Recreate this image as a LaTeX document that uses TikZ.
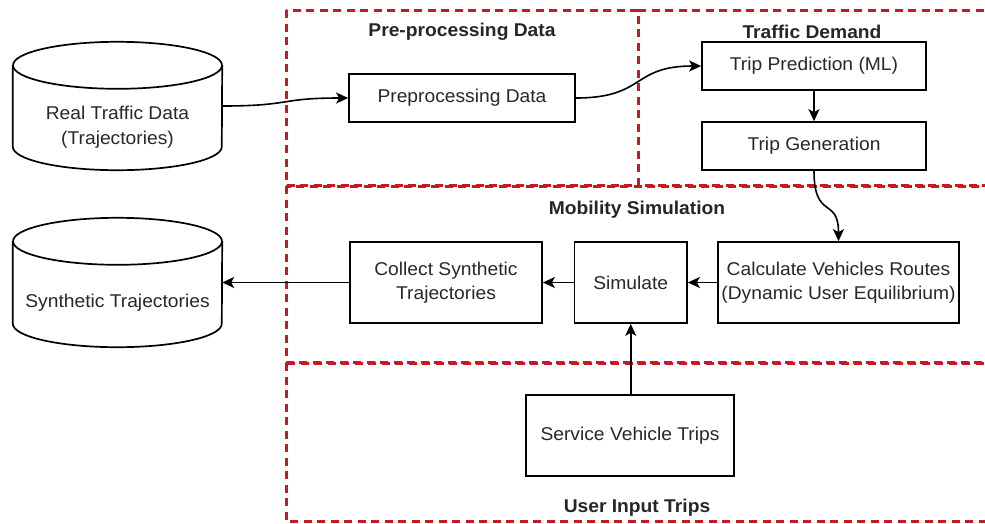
\documentclass[tikz,border=0pt]{standalone}
\usepackage{fontspec}
\setmainfont{Liberation Sans}[FakeStretch=1.04]
\usetikzlibrary{arrows.meta,calc}

\definecolor{zonered}{RGB}{200,25,35}
\definecolor{inktext}{RGB}{40,40,40}

\tikzset{
  zone/.style={draw=zonered, line width=3pt, dash pattern=on 8pt off 5.5pt},
  ztitle/.style={font=\fontsize{18.5}{22}\selectfont\bfseries, text=black!85, inner sep=0pt},
  procbox/.style={draw=black, line width=1.7pt, fill=white, align=center, inner sep=0pt,
    font=\fontsize{18.5}{24}\selectfont, text=inktext},
  dbbody/.style={inner sep=0pt, minimum width=209pt},
  dblabel/.style={align=center, inner sep=0pt, font=\fontsize{18.5}{25}\selectfont, text=inktext},
  dbline/.style={draw=black, line width=1.7pt},
  flow/.style={draw=black, line width=1.6pt, -{Stealth[length=12pt,width=11pt,inset=3pt]}},
}

% cylinder outline around a body node: top ellipse and curved bottom
\newcommand\drawdb[1]{%
  \draw[dbline, fill=white] ($(#1.north west)+(0,23.5)$) -- ($(#1.south west)+(0,-23.5)$)
    arc[start angle=180, end angle=360, x radius=104.5pt, y radius=23.5pt]
    -- ($(#1.north east)+(0,23.5)$);
  \draw[dbline] ($(#1.north)+(0,23.5)$) ellipse[x radius=104.5pt, y radius=23.5pt];
}

\begin{document}
\begin{tikzpicture}[x=1pt, y=-1pt]
  \clip (0,0) rectangle (985,523);
  \fill[white] (0,0) rectangle (985,523);

  % dashed zones (the demand zone shares its left edge with the pre-processing zone)
  \draw[zone] (286,10) rectangle (638,185);
  \draw[zone] (638,10) -- (1010,10) -- (1010,185) -- (638,185);
  \draw[zone] (286,186) rectangle (1010,362);
  \draw[zone] (286,363) rectangle (1010,521);

  % zone titles
  \node[ztitle] (tpre) at (462,32) {Pre-processing Data};
  \node[ztitle] (tdem) at (812,32) {Traffic Demand};
  \node[ztitle] (tmob) at (637,210) {Mobility Simulation};
  \node[ztitle] (tusr) at (637,508) {User Input Trips};

  % data stores
  \node[dbbody, minimum height=128pt] (rt) at (117.5,106) {};
  \drawdb{rt}
  \node[dblabel] (rtlabel) at (117.5,127.5) {Real Traffic Data\\(Trajectories)};

  \node[dbbody, minimum height=129pt] (syn) at (117.5,282.5) {};
  \drawdb{syn}
  \node[dblabel] (synlabel) at (117.5,303) {Synthetic Trajectories};

  % process boxes
  \node[procbox, minimum width=226pt, minimum height=48pt] (pre) at (462,98) {Preprocessing Data};
  \node[procbox, minimum width=224pt, minimum height=48pt] (tp) at (814,66) {Trip Prediction (ML)};
  \node[procbox, minimum width=224pt, minimum height=48pt] (tg) at (814,146) {Trip Generation};
  \node[procbox, minimum width=241pt, minimum height=81pt] (cv) at (838.5,282.5)
    {Calculate Vehicles Routes\\(Dynamic User Equilibrium)};
  \node[procbox, minimum width=112.5pt, minimum height=81pt] (sim) at (630.75,282.5) {Simulate};
  \node[procbox, minimum width=192pt, minimum height=81pt] (col) at (446,282.5)
    {Collect Synthetic\\Trajectories};
  \node[procbox, minimum width=208pt, minimum height=81pt] (svc) at (630,435.5) {Service Vehicle Trips};

  % connectors
  \draw[flow] (rt.east) .. controls +(70,0) and +(-70,0) .. (pre.west);
  \draw[flow] (pre.east) .. controls +(70,0) and +(-70,0) .. (tp.west);
  \draw[flow] (tp.south) -- (tg.north);
  \draw[flow] (tg.south) .. controls +(0,50) and +(0,-45) .. (cv.north);
  \draw[flow] (cv.west) -- (sim.east);
  \draw[flow] (sim.west) -- (col.east);
  \draw[flow] (col.west) -- (syn.east);
  \draw[flow] (svc.north -| sim.south) -- (sim.south);
\end{tikzpicture}
\end{document}
